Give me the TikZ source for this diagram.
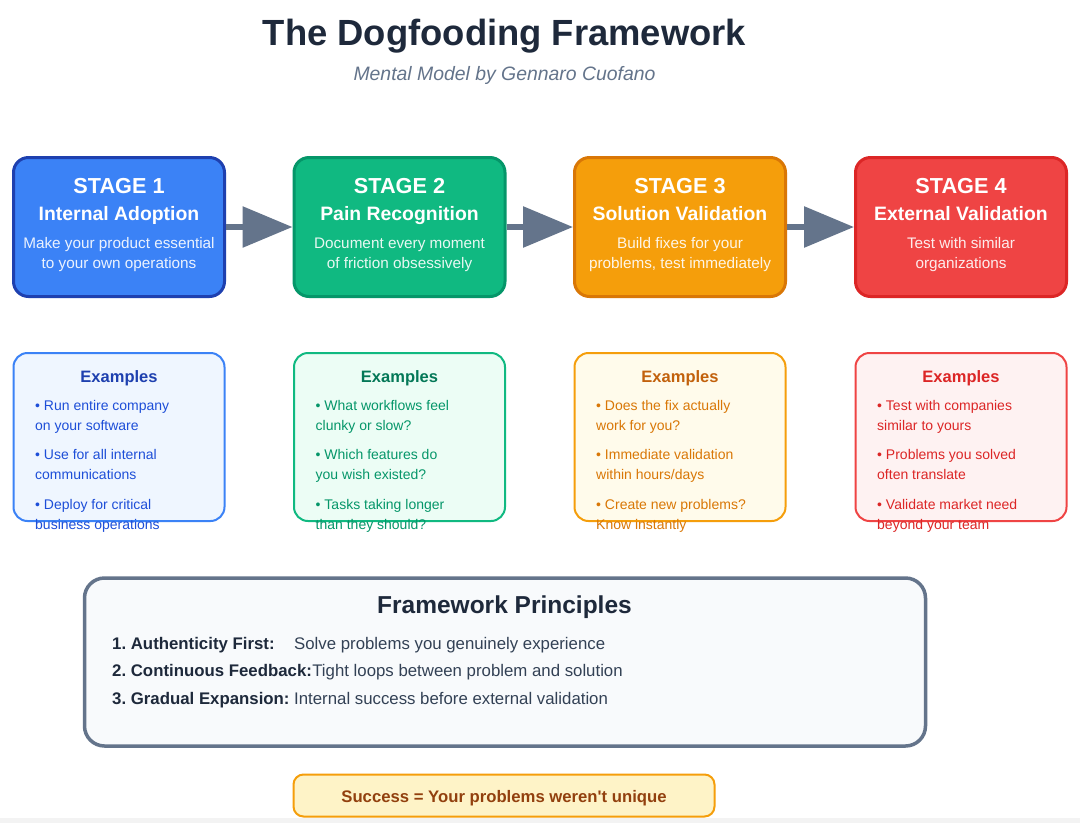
\documentclass[tikz,border=0pt]{standalone}
\usepackage{fontspec}
\setmainfont{Liberation Sans}[Ligatures=TeXOff]
\frenchspacing
\usetikzlibrary{arrows.meta}
\definecolor{ink}{HTML}{1E293B}
\definecolor{inksoft}{HTML}{334155}
\definecolor{slate}{HTML}{64748B}
\definecolor{bluefill}{HTML}{3B82F6}
\definecolor{blueedge}{HTML}{1E40AF}
\definecolor{greenfill}{HTML}{10B981}
\definecolor{greenedge}{HTML}{059669}
\definecolor{orangefill}{HTML}{F59E0B}
\definecolor{orangeedge}{HTML}{D97706}
\definecolor{redfill}{HTML}{EF4444}
\definecolor{rededge}{HTML}{DC2626}
\definecolor{bluelight}{HTML}{EFF6FF}
\definecolor{greenlight}{HTML}{ECFDF5}
\definecolor{orangelight}{HTML}{FFFBEB}
\definecolor{redlight}{HTML}{FEF2F2}
\definecolor{bluetitle}{HTML}{1E40AF}
\definecolor{bluetext}{HTML}{1D4ED8}
\definecolor{greentitle}{HTML}{047857}
\definecolor{greentext}{HTML}{059669}
\definecolor{orangetitle}{HTML}{C2610C}
\definecolor{orangetext}{HTML}{D97706}
\definecolor{redtitle}{HTML}{DC2626}
\definecolor{redtext}{HTML}{DC2626}
\definecolor{princfill}{HTML}{F8FAFC}
\definecolor{succfill}{HTML}{FEF3C7}
\definecolor{succtext}{HTML}{92400E}
\definecolor{bottomgray}{HTML}{F3F3F3}

\tikzset{
  stagebox/.style={rounded corners=15pt, line width=3pt, minimum width=211pt, minimum height=139pt, inner sep=0pt},
  stagenum/.style={text=white, font=\fontsize{21.7}{26}\selectfont\bfseries, inner sep=0pt},
  stagetitle/.style={text=white, font=\fontsize{19.4}{23}\selectfont\bfseries, inner sep=0pt},
  stagedesc/.style={text=white, text opacity=0.9, font=\fontsize{15.3}{20}\selectfont, inner sep=0pt},
  exbox/.style={rounded corners=14pt, line width=2pt, minimum width=211pt, minimum height=168pt, inner sep=0pt},
  extitle/.style={font=\fontsize{16.5}{20}\selectfont\bfseries, inner sep=0pt},
  extext/.style={font=\fontsize{14}{20}\selectfont, align=left, inner sep=0pt},
  flowarrow/.style={draw=slate, line width=6pt, -{Triangle[length=50pt,width=40pt]}},
  princbox/.style={rounded corners=20pt, line width=3.5pt, draw=slate, fill=princfill, minimum width=841pt, minimum height=168pt, inner sep=0pt},
  princlabel/.style={text=ink, font=\fontsize{16.8}{20}\selectfont\bfseries, inner sep=0pt},
  princdesc/.style={text=inksoft, font=\fontsize{16.8}{20}\selectfont, inner sep=0pt},
  succbox/.style={rounded corners=10pt, line width=2pt, draw=orangefill, fill=succfill, minimum width=421pt, minimum height=42pt, inner sep=0pt},
}

\newcommand\stagecard[7]{%
  \node[stagebox, fill=#3, draw=#4] (s#1) at (#2,227) {};
  \node[stagenum, anchor=base] (s#1n) at (#2,193) {STAGE #1};
  \node[stagetitle, anchor=base] (s#1t) at (#2,220) {#5};
  \node[stagedesc, anchor=base] (s#1d) at (#2,248) {#6};
  \node[stagedesc, anchor=base] (s#1e) at (#2,268.5) {#7};
}
\newcommand\examplecard[7]{%
  \node[exbox, fill=#3, draw=#4] (x#1) at (#2,437) {};
  \node[extitle, text=#5, anchor=base] (x#1t) at (#2,382) {Examples};
  \node[extext, text=#6, anchor=north west] (x#1b) at ([xshift=-84pt]#2,400) {#7};
}

\begin{document}
\begin{tikzpicture}[x=1pt, y=-1pt]
\useasboundingbox (0,0) rectangle (1080,823);
\fill[white] (0,0) rectangle (1080,823);
\fill[bottomgray] (0,818) rectangle (1080,823);

% title
\node[text=ink, font=\fontsize{36.4}{40}\selectfont\bfseries, anchor=base, inner sep=0pt] (title) at (504.5,45) {The Dogfooding Framework};
\node[text=slate, font=\fontsize{19.4}{23}\selectfont\itshape, anchor=base, inner sep=0pt] (subtitle) at (504.5,80) {Mental Model by Gennaro Cuofano};

% stages
\stagecard{1}{119}{bluefill}{blueedge}{Internal Adoption}{Make your product essential}{to your own operations}
\stagecard{2}{399.5}{greenfill}{greenedge}{Pain Recognition}{Document every moment}{of friction obsessively}
\stagecard{3}{680}{orangefill}{orangeedge}{Solution Validation}{Build fixes for your}{problems, test immediately}
\stagecard{4}{961}{redfill}{rededge}{External Validation}{Test with similar}{organizations}

\draw[flowarrow] (s1.east) -- (s2.west);
\draw[flowarrow] (s2.east) -- (s3.west);
\draw[flowarrow] (s3.east) -- (s4.west);

% examples
\examplecard{1}{119}{bluelight}{bluefill}{bluetitle}{bluetext}{• Run entire company\\on your software\\[9.5pt]• Use for all internal\\communications\\[9.5pt]• Deploy for critical\\business operations}
\examplecard{2}{399.5}{greenlight}{greenfill}{greentitle}{greentext}{• What workflows feel\\clunky or slow?\\[9.5pt]• Which features do\\you wish existed?\\[9.5pt]• Tasks taking longer\\than they should?}
\examplecard{3}{680}{orangelight}{orangefill}{orangetitle}{orangetext}{• Does the fix actually\\work for you?\\[9.5pt]• Immediate validation\\within hours/days\\[9.5pt]• Create new problems?\\Know instantly}
\examplecard{4}{961}{redlight}{redfill}{redtitle}{redtext}{• Test with companies\\similar to yours\\[9.5pt]• Problems you solved\\often translate\\[9.5pt]• Validate market need\\beyond your team}

% principles
\node[princbox] (pb) at (505,662) {};
\node[text=ink, font=\fontsize{24.5}{28}\selectfont\bfseries, anchor=base, inner sep=0pt] (pbt) at (504.5,613) {Framework Principles};
\node[princlabel, anchor=base west] (p1) at (112,649) {1. Authenticity First:};
\node[princdesc, anchor=base west] (p1d) at (294,649) {Solve problems you genuinely experience};
\node[princlabel, anchor=base west] (p2) at (112,676.5) {2. Continuous Feedback:};
\node[princdesc, anchor=base west] (p2d) at (p2.base east) {Tight loops between problem and solution};
\node[princlabel, anchor=base west] (p3) at (112,704) {3. Gradual Expansion:};
\node[princdesc, anchor=base west] (p3d) at (294,704) {Internal success before external validation};

% success
\node[succbox] (sc) at (504,795.5) {};
\node[text=succtext, font=\fontsize{16.7}{20}\selectfont\bfseries, anchor=base, inner sep=0pt] (sct) at (504,802) {Success = Your problems weren't unique};
\end{tikzpicture}
\end{document}
